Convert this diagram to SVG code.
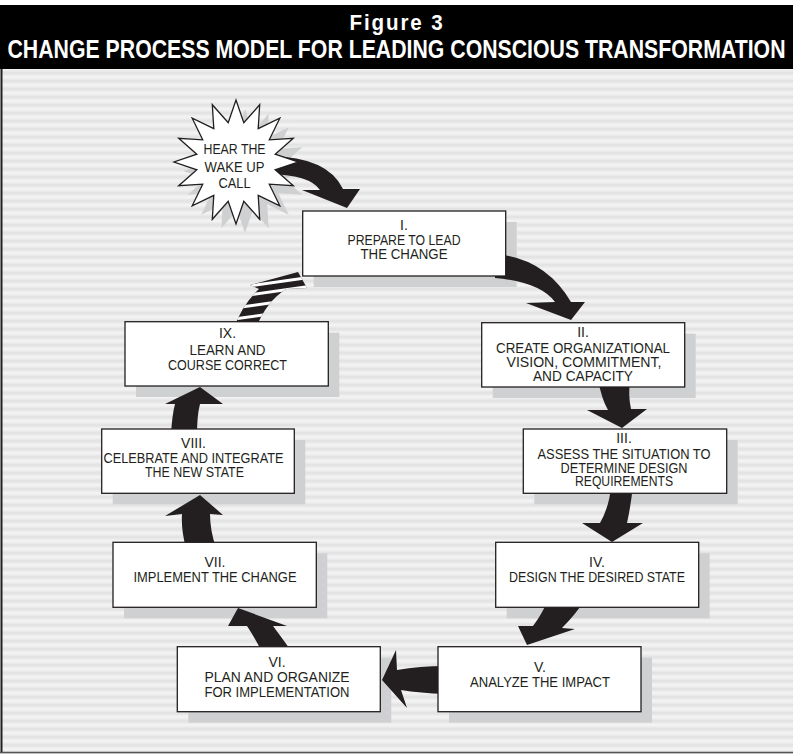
<svg xmlns="http://www.w3.org/2000/svg" width="793" height="754" viewBox="0 0 793 754">
<defs>
<linearGradient id="sg" x1="0" y1="0" x2="0" y2="1">
<stop offset="0" stop-color="#f5f5f5"/>
<stop offset="0.5" stop-color="#e1e1e2"/>
<stop offset="1" stop-color="#f5f5f5"/>
</linearGradient>
<pattern id="stripes" x="0" y="69" width="20" height="8" patternUnits="userSpaceOnUse">
<rect width="20" height="8" fill="url(#sg)"/>
</pattern>
<clipPath id="dashclip">
<path d="M234,328 Q242,305 259,289 L250,285 L298,272 L307,288 L286,289 Q266,302 256,328 Z"/>
</clipPath>
<style>
.box{fill:#fff;stroke:#231f20;stroke-width:1.3}
.sh{fill:#cfd0d2}
.arr{fill:#231f20}
.t{font-family:"Liberation Sans",Arial,sans-serif;font-size:14px;fill:#231f20;text-anchor:middle}
.ts{font-family:"Liberation Sans",Arial,sans-serif;font-size:15.5px;fill:#231f20;text-anchor:middle}
.title{font-family:"Liberation Sans",Arial,sans-serif;font-weight:bold;fill:#fff;text-anchor:middle}
</style>
</defs>
<rect x="0" y="0" width="793" height="754" fill="#fff"/>
<rect x="0" y="69" width="793" height="685" fill="url(#stripes)"/>
<line x1="1.5" y1="69" x2="1.5" y2="753" stroke="#231f20" stroke-width="2"/>
<line x1="0" y1="752.5" x2="793" y2="752.5" stroke="#555" stroke-width="1.5"/>
<g id="title">
<rect x="0" y="5" width="793" height="64" fill="#000"/>
<text class="title" x="397" y="30" font-size="22" letter-spacing="2" textLength="95" lengthAdjust="spacingAndGlyphs">Figure 3</text>
<text class="title" x="396.5" y="58" font-size="25" textLength="778" lengthAdjust="spacingAndGlyphs">CHANGE PROCESS MODEL FOR LEADING CONSCIOUS TRANSFORMATION</text>
</g>
<g id="shadows">
<polygon class="sh" transform="translate(9,9)" points="236,100 243.8,122.8 259.7,104.7 258.2,128.7 279.8,118.2 269.3,139.8 293.3,138.3 275.2,154.2 298,162 275.2,169.8 293.3,185.7 269.3,184.2 279.8,205.8 258.2,195.3 259.7,219.3 243.8,201.2 236,224 228.2,201.2 212.3,219.3 213.8,195.3 192.2,205.8 202.7,184.2 178.7,185.7 196.8,169.8 174,162 196.8,154.2 178.7,138.3 202.7,139.8 192.2,118.2 213.8,128.7 212.3,104.7 228.2,122.8"/>
<rect class="sh" x="313.7" y="222" width="203" height="65"/>
<rect class="sh" x="492.7" y="333.7" width="203" height="64.3"/>
<rect class="sh" x="534.3" y="440" width="203.4" height="64.3"/>
<rect class="sh" x="506.7" y="553.3" width="203" height="65"/>
<rect class="sh" x="449" y="657.7" width="203" height="65"/>
<rect class="sh" x="188.3" y="657.7" width="203" height="65"/>
<rect class="sh" x="124" y="553.3" width="203.3" height="65"/>
<rect class="sh" x="112.7" y="440" width="192.6" height="64.3"/>
<rect class="sh" x="136" y="332.7" width="203.3" height="64.3"/>
</g>
<g id="connectors">
<path class="arr" d="M270,156 Q328,157 343,189 L360,189 L347,208 L302,190 L320,190 Q310,175 270,174 Z"/>
<path class="arr" d="M495,254 Q545,258 571,302 L585,302 L571,320 L526,303 L555,302 Q540,282 495,278 Z"/>
<path class="arr" d="M598,380 Q602,400 608,410 L587,410 L622,428 L647,409 L631,409 Q628,395 630,380 Z"/>
<path class="arr" d="M611,485 Q610,505 600,523 L582,523 L612,542 L643,523 L627,523 Q631,505 633,485 Z"/>
<path class="arr" d="M548,600 L585,600 Q575,615 562,628 L575,629 L527,645 L518,626 L533,626 Q542,614 548,600 Z"/>
<path class="arr" d="M445,666 Q420,666 397,670 L396,650 L382,680 L407,708 L401,690 Q420,693 445,694 Z"/>
<path class="arr" d="M262,652 Q255,638 247,626 L228,626 L238,608 L287,626 L273,626 Q282,638 292,652 Z"/>
<path class="arr" d="M186,548 Q181,530 182,514 L165,516 L200,495 L223,515 L210,514 Q210,530 216,548 Z"/>
<path class="arr" d="M171,435 Q172,415 175,404 L165,404 L200,387 L223,404 L200,404 Q197,415 197,435 Z"/>
<g>
<path class="arr" d="M234,328 Q242,305 259,289 L250,285 L298,272 L307,288 L286,289 Q266,302 256,328 Z"/>
<g clip-path="url(#dashclip)" stroke="#fff" stroke-width="3">
<line x1="220" y1="290" x2="320" y2="276"/>
<line x1="220" y1="299" x2="320" y2="285"/>
<line x1="220" y1="310" x2="320" y2="296"/>
<line x1="220" y1="321" x2="320" y2="307"/>
</g>
</g>
</g>
<g id="wakeup">
<polygon fill="#fff" stroke="#231f20" stroke-width="1.3" points="236,100 243.8,122.8 259.7,104.7 258.2,128.7 279.8,118.2 269.3,139.8 293.3,138.3 275.2,154.2 298,162 275.2,169.8 293.3,185.7 269.3,184.2 279.8,205.8 258.2,195.3 259.7,219.3 243.8,201.2 236,224 228.2,201.2 212.3,219.3 213.8,195.3 192.2,205.8 202.7,184.2 178.7,185.7 196.8,169.8 174,162 196.8,154.2 178.7,138.3 202.7,139.8 192.2,118.2 213.8,128.7 212.3,104.7 228.2,122.8"/>
<text class="ts" x="234.5" y="154.3" textLength="62" lengthAdjust="spacingAndGlyphs">HEAR THE</text>
<text class="ts" x="234.5" y="171.7" textLength="60" lengthAdjust="spacingAndGlyphs">WAKE UP</text>
<text class="ts" x="234.5" y="188.3" textLength="32" lengthAdjust="spacingAndGlyphs">CALL</text>
</g>
<g id="step1">
<rect class="box" x="302.7" y="211" width="203" height="65"/>
<text class="t" x="404" y="230">I.</text>
<text class="t" x="404" y="245" textLength="113" lengthAdjust="spacingAndGlyphs">PREPARE TO LEAD</text>
<text class="t" x="404" y="259" textLength="87" lengthAdjust="spacingAndGlyphs">THE CHANGE</text>
</g>
<g id="step2">
<rect class="box" x="481.7" y="322.7" width="203" height="64.3"/>
<text class="t" x="583" y="337">II.</text>
<text class="t" x="583" y="353" textLength="174" lengthAdjust="spacingAndGlyphs">CREATE ORGANIZATIONAL</text>
<text class="t" x="584" y="367" textLength="155" lengthAdjust="spacingAndGlyphs">VISION, COMMITMENT,</text>
<text class="t" x="583" y="381" textLength="100" lengthAdjust="spacingAndGlyphs">AND CAPACITY</text>
</g>
<g id="step3">
<rect class="box" x="523.3" y="429" width="203.4" height="64.3"/>
<text class="t" x="624" y="443">III.</text>
<text class="t" x="624" y="459" textLength="173" lengthAdjust="spacingAndGlyphs">ASSESS THE SITUATION TO</text>
<text class="t" x="624" y="472.5" textLength="127" lengthAdjust="spacingAndGlyphs">DETERMINE DESIGN</text>
<text class="t" x="624" y="486" textLength="98" lengthAdjust="spacingAndGlyphs">REQUIREMENTS</text>
</g>
<g id="step4">
<rect class="box" x="495.7" y="542.3" width="203" height="65"/>
<text class="t" x="597" y="567">IV.</text>
<text class="t" x="597" y="582" textLength="176" lengthAdjust="spacingAndGlyphs">DESIGN THE DESIRED STATE</text>
</g>
<g id="step5">
<rect class="box" x="438" y="646.7" width="203" height="65"/>
<text class="t" x="540" y="672">V.</text>
<text class="t" x="540" y="687" textLength="140" lengthAdjust="spacingAndGlyphs">ANALYZE THE IMPACT</text>
</g>
<g id="step6">
<rect class="box" x="177.3" y="646.7" width="203" height="65"/>
<text class="t" x="277" y="667">VI.</text>
<text class="t" x="277" y="682" textLength="145" lengthAdjust="spacingAndGlyphs">PLAN AND ORGANIZE</text>
<text class="t" x="277" y="697" textLength="145" lengthAdjust="spacingAndGlyphs">FOR IMPLEMENTATION</text>
</g>
<g id="step7">
<rect class="box" x="113" y="542.3" width="203.3" height="65"/>
<text class="t" x="215" y="567">VII.</text>
<text class="t" x="215" y="582" textLength="163" lengthAdjust="spacingAndGlyphs">IMPLEMENT THE CHANGE</text>
</g>
<g id="step8">
<rect class="box" x="101.7" y="429" width="192.6" height="64.3"/>
<text class="t" x="193.5" y="448">VIII.</text>
<text class="t" x="193.5" y="463" textLength="180" lengthAdjust="spacingAndGlyphs">CELEBRATE AND INTEGRATE</text>
<text class="t" x="194.5" y="477" textLength="99" lengthAdjust="spacingAndGlyphs">THE NEW STATE</text>
</g>
<g id="step9">
<rect class="box" x="125" y="321.7" width="203.3" height="64.3"/>
<text class="t" x="227.5" y="338">IX.</text>
<text class="t" x="227.5" y="355" textLength="76" lengthAdjust="spacingAndGlyphs">LEARN AND</text>
<text class="t" x="227.5" y="370" textLength="119" lengthAdjust="spacingAndGlyphs">COURSE CORRECT</text>
</g>
</svg>
